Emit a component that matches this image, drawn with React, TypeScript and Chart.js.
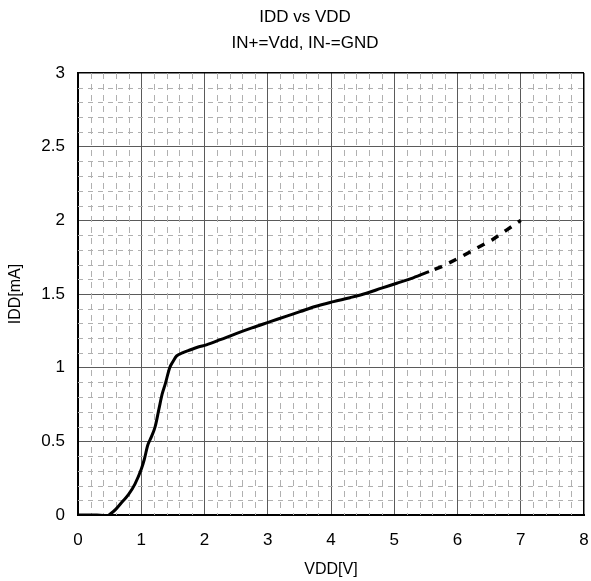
import React, { useEffect, useRef } from "react";
import { Chart, registerables } from "chart.js";

Chart.register(...registerables);

// ---- data ----
const titleLines = ["IDD vs VDD", "IN+=Vdd, IN-=GND"];
const xAxisTitle = "VDD[V]";
const yAxisTitle = "IDD[mA]";

const xTickValues = [0, 1, 2, 3, 4, 5, 6, 7, 8];
const yTickValues = [0, 0.5, 1, 1.5, 2, 2.5, 3];
const xMinorStep = 0.2;
const yMinorStep = 0.1;

// measured (solid) part of the curve
const measuredVdd = [
  0, 0.2, 0.3, 0.4, 0.46, 0.52, 0.6, 0.7, 0.8, 0.9, 1.0, 1.05, 1.1, 1.16, 1.22,
  1.28, 1.33, 1.38, 1.45, 1.5, 1.56, 1.65, 1.77, 1.9, 2.03, 2.25, 2.51, 2.75,
  3.04, 3.3, 3.51, 3.75, 4.04, 4.3, 4.56, 4.8, 5.04, 5.3, 5.55,
];
const measuredIdd = [
  0, 0, 0, -0.003, -0.005, 0.01, 0.04, 0.09, 0.14, 0.21, 0.31, 0.38, 0.47,
  0.53, 0.6, 0.72, 0.82, 0.89, 1.0, 1.04, 1.08, 1.1, 1.12, 1.14, 1.155, 1.19,
  1.233, 1.27, 1.312, 1.35, 1.38, 1.415, 1.448, 1.475, 1.505, 1.54, 1.573,
  1.61, 1.652,
];

// extrapolated (dashed) part
const extrapVdd = [5.55, 5.75, 6.04, 6.3, 6.54, 6.78, 7.0];
const extrapIdd = [1.652, 1.686, 1.748, 1.81, 1.865, 1.935, 2.0];

const FONT = "'Liberation Sans', Arial, sans-serif";

const minorGridPlugin = {
  id: "minorGrid",
  beforeDatasetsDraw(chart: any) {
    const { ctx, chartArea, scales } = chart;
    const { left, right, top, bottom } = chartArea;
    const xs = scales.x;
    const ys = scales.y;
    ctx.save();
    ctx.strokeStyle = "#b0b0b0";
    ctx.lineWidth = 1;
    const xMax = xTickValues[xTickValues.length - 1];
    const yMax = yTickValues[yTickValues.length - 1];
    const nx = Math.round(xMax / xMinorStep);
    const ny = Math.round(yMax / yMinorStep);
    ctx.setLineDash([6, 5]);
    for (let i = 1; i < nx; i++) {
      if (i % 5 === 0) continue;
      const px = Math.round(xs.getPixelForValue(i * xMinorStep)) + 0.5;
      ctx.beginPath();
      ctx.moveTo(px, top);
      ctx.lineTo(px, bottom);
      ctx.stroke();
    }
    ctx.setLineDash([5, 5]);
    for (let j = 1; j < ny; j++) {
      if (j % 5 === 0) continue;
      const py = Math.round(ys.getPixelForValue(j * yMinorStep)) + 0.5;
      ctx.beginPath();
      ctx.moveTo(left, py);
      ctx.lineTo(right, py);
      ctx.stroke();
    }
    ctx.restore();
  },
};

export default function App() {
  const ref = useRef<HTMLCanvasElement | null>(null);

  useEffect(() => {
    if (!ref.current) return;
    const chart = new Chart(ref.current, {
      type: "line",
      data: {
        datasets: [
          {
            data: measuredVdd.map((v, i) => ({ x: v, y: measuredIdd[i] })),
            borderColor: "#000",
            borderWidth: 3,
            pointRadius: 0,
            cubicInterpolationMode: "monotone",
            fill: false,
          },
          {
            data: extrapVdd.map((v, i) => ({ x: v, y: extrapIdd[i] })),
            borderColor: "#000",
            borderWidth: 3.5,
            borderDash: [8, 8],
            borderDashOffset: 10,
            borderCapStyle: "butt",
            pointRadius: 0,
            fill: false,
          },
        ],
      },
      options: {
        responsive: false,
        animation: false,
        devicePixelRatio: 1,
        layout: { padding: 0 },
        plugins: {
          legend: { display: false },
          tooltip: { enabled: false },
          title: {
            display: true,
            text: titleLines,
            color: "#000",
            font: { family: FONT, size: 17, weight: "normal", lineHeight: 1.5 },
            padding: { top: 5, bottom: 17 },
          },
        },
        scales: {
          x: {
            type: "linear",
            min: 0,
            max: 8,
            afterBuildTicks: (s: any) => {
              s.ticks = xTickValues.map((v) => ({ value: v }));
            },
            afterFit: (s: any) => {
              s.height = 66;
            },
            grid: {
              drawTicks: false,
              color: (c: any) => (c.tick && c.tick.value === 8 ? "#000" : "#5a5a5a"),
              lineWidth: (c: any) => (c.tick && c.tick.value === 8 ? 1.5 : 1),
            },
            border: { color: "#000", width: 2 },
            ticks: {
              color: "#000",
              font: { family: FONT, size: 17 },
              padding: 15,
              maxRotation: 0,
              callback: (v: any) => String(v),
            },
            title: {
              display: true,
              text: xAxisTitle,
              color: "#000",
              font: { family: FONT, size: 16, lineHeight: 1.2 },
              padding: { top: 0, bottom: 2 },
            },
          },
          y: {
            type: "linear",
            min: 0,
            max: 3,
            afterBuildTicks: (s: any) => {
              s.ticks = yTickValues.map((v) => ({ value: v }));
            },
            afterFit: (s: any) => {
              s.width = 78;
            },
            grid: {
              drawTicks: false,
              color: (c: any) => (c.tick && c.tick.value === 3 ? "#000" : "#5a5a5a"),
              lineWidth: (c: any) => (c.tick && c.tick.value === 3 ? 1.5 : 1),
            },
            border: { color: "#000", width: 2 },
            ticks: {
              color: "#000",
              font: { family: FONT, size: 17 },
              padding: 13,
              callback: (v: any) => String(v),
            },
            title: {
              display: true,
              text: yAxisTitle,
              color: "#000",
              font: { family: FONT, size: 16, lineHeight: 1.2 },
              padding: { top: 6, bottom: 0 },
            },
          },
          yRight: {
            type: "linear",
            position: "right",
            min: 0,
            max: 1,
            afterFit: (s: any) => {
              s.width = 26;
            },
            grid: { display: false, drawTicks: false },
            border: { display: false },
            ticks: { display: false },
          },
        },
      },
      plugins: [minorGridPlugin],
    } as any);
    return () => chart.destroy();
  }, []);

  return (
    <div
      style={{
        position: "fixed",
        left: 0,
        top: 0,
        width: 591,
        height: 581,
        overflow: "hidden",
        background: "#fff",
      }}
    >
      <canvas ref={ref} width={610} height={581} style={{ display: "block" }} />
    </div>
  );
}
